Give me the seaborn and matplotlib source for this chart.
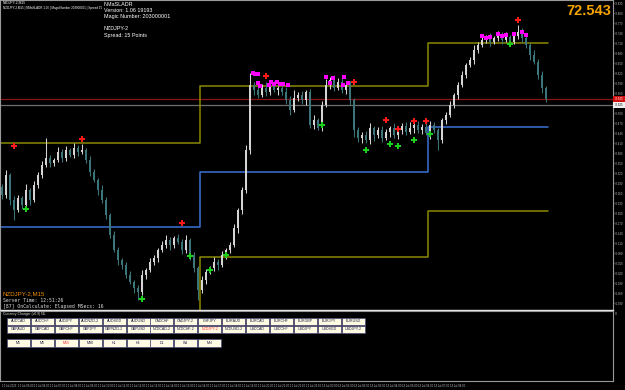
import matplotlib
matplotlib.use("Agg")
import matplotlib.pyplot as plt
from matplotlib.patches import Rectangle
import numpy as np
import pandas as pd
import seaborn as sns

# ---------------- data ----------------
symbol = "NZDJPY-2"
timeframe = "M15"
last_price = 72.543
first_open = 72.280

closes = [
    72.255, 72.315, 72.240, 72.210, 72.246, 72.225, 72.270, 72.240, 72.285, 72.315,
    72.345, 72.366, 72.351, 72.360, 72.384, 72.366, 72.390, 72.375, 72.396, 72.384,
    72.390, 72.360, 72.324, 72.300, 72.270, 72.240, 72.195, 72.135, 72.090, 72.060,
    72.045, 72.015, 71.994, 71.976, 71.964, 72.015, 72.030, 72.054, 72.066, 72.090,
    72.105, 72.120, 72.105, 72.126, 72.114, 72.090, 72.120, 72.075, 72.036, 71.970,
    72.000, 72.024, 72.036, 72.054, 72.045, 72.075, 72.090, 72.105, 72.156, 72.210,
    72.270, 72.390, 72.585, 72.570, 72.555, 72.576, 72.564, 72.585, 72.570, 72.576,
    72.564, 72.540, 72.510, 72.546, 72.555, 72.540, 72.564, 72.465, 72.480, 72.456,
    72.525, 72.585, 72.600, 72.576, 72.594, 72.570, 72.585, 72.540, 72.450, 72.426,
    72.435, 72.420, 72.456, 72.435, 72.450, 72.426, 72.444, 72.456, 72.435, 72.450,
    72.462, 72.444, 72.456, 72.465, 72.450, 72.459, 72.441, 72.465, 72.450, 72.420,
    72.480, 72.495, 72.525, 72.555, 72.585, 72.615, 72.645, 72.660, 72.690, 72.705,
    72.720, 72.726, 72.714, 72.726, 72.735, 72.720, 72.729, 72.714, 72.732, 72.744,
    72.726, 72.705, 72.675, 72.654, 72.615, 72.576, 72.543,
]
# wick lengths in points (0.001)
wick_up = [
    9, 15, 6, 12, 9, 6, 18, 6, 12, 9,
    12, 60, 9, 6, 15, 9, 12, 6, 15, 9,
    18, 6, 12, 9, 6, 15, 9, 6, 12, 9,
    6, 9, 12, 6, 9, 15, 6, 12, 9, 6,
    12, 15, 9, 6, 12, 9, 15, 6, 9, 6,
    12, 9, 6, 15, 9, 12, 6, 9, 12, 6,
    9, 15, 36, 9, 15, 12, 18, 9, 12, 6,
    9, 15, 12, 24, 9, 12, 6, 9, 15, 6,
    12, 18, 9, 15, 12, 18, 9, 12, 6, 9,
    9, 12, 15, 6, 9, 12, 9, 6, 15, 9,
    9, 12, 18, 6, 12, 9, 15, 12, 9, 6,
    6, 9, 12, 6, 9, 12, 6, 9, 15, 9,
    12, 9, 15, 6, 12, 9, 15, 6, 9, 21,
    12, 9, 6, 15, 9, 12, 6,
]
wick_dn = [
    12, 9, 15, 30, 6, 12, 9, 15, 6, 9,
    9, 6, 12, 9, 6, 12, 9, 6, 9, 12,
    6, 9, 12, 6, 15, 9, 12, 9, 6, 15,
    12, 9, 6, 15, 24, 9, 12, 6, 9, 12,
    6, 9, 15, 9, 6, 12, 9, 15, 12, 30,
    9, 12, 6, 9, 15, 6, 12, 9, 6, 15,
    12, 9, 12, 15, 9, 6, 12, 9, 6, 15,
    9, 12, 15, 6, 9, 12, 15, 9, 12, 6,
    9, 6, 12, 9, 6, 9, 12, 15, 21, 12,
    15, 9, 12, 18, 9, 12, 6, 15, 9, 12,
    12, 9, 6, 15, 9, 12, 6, 18, 9, 30,
    9, 12, 6, 9, 12, 6, 9, 6, 12, 9,
    6, 9, 12, 6, 9, 12, 6, 9, 6, 9,
    12, 9, 15, 6, 12, 15, 9,
]

# step bands (ADR levels)
level_x = [-0.5, 49.5, 106.5, 136.5]
upper_band = [72.411, 72.582, 72.711, 72.711]
mid_band = [72.159, 72.324, 72.459, 72.459]
lower_band = [71.904, 72.069, 72.207, 72.207]

bid_line = 72.543
grey_line = 72.525

sell_idx = [3, 20, 45, 66, 88, 96, 99, 103, 106, 129]
sell_px = [72.402, 72.423, 72.171, 72.612, 72.594, 72.480, 72.453, 72.477, 72.477, 72.780]
buy_idx = [6, 35, 47, 52, 56, 80, 91, 97, 99, 103, 107, 127]
buy_px = [72.213, 71.943, 72.072, 72.030, 72.075, 72.465, 72.390, 72.408, 72.402, 72.420, 72.438, 72.708]
dot_idx = [62.8, 63.3, 64.0, 64.0, 64.5, 66.8, 67.3, 68.0, 68.8, 69.5, 70.3, 71.5,
           81.0, 82.0, 82.8, 85.5, 85.3, 86.5,
           120, 121, 122, 124, 125, 126, 128, 130, 131]
dot_px = [72.621, 72.618, 72.618, 72.591, 72.582, 72.585, 72.594, 72.588, 72.594, 72.588, 72.588, 72.585,
          72.609, 72.591, 72.606, 72.609, 72.585, 72.591,
          72.732, 72.726, 72.729, 72.738, 72.732, 72.735, 72.738, 72.744, 72.735]

price_ticks = [72.830, 72.800, 72.770, 72.740, 72.710, 72.680, 72.650, 72.620, 72.590, 72.560,
               72.530, 72.500, 72.470, 72.440, 72.410, 72.380, 72.350, 72.320, 72.290, 72.260,
               72.230, 72.200, 72.170, 72.140, 72.110, 72.080, 72.050, 72.020, 71.990, 71.960, 71.930]
time_labels = ["12 Jul 2022", "12 Jul 05:00", "12 Jul 06:00", "12 Jul 07:00", "12 Jul 08:00",
               "12 Jul 09:00", "12 Jul 10:00", "12 Jul 11:00", "12 Jul 12:00", "12 Jul 13:00",
               "12 Jul 14:00", "12 Jul 15:00", "12 Jul 16:00", "12 Jul 17:00", "12 Jul 18:00",
               "12 Jul 19:00", "12 Jul 20:00", "12 Jul 21:00", "12 Jul 22:00", "12 Jul 23:00",
               "13 Jul 00:00", "13 Jul 01:00", "13 Jul 02:00", "13 Jul 03:00", "13 Jul 04:00",
               "13 Jul 05:00", "13 Jul 06:00", "13 Jul 07:00", "13 Jul 08:00"]
time_idx = [0, 4, 8, 12, 16, 20, 24, 28, 32, 36, 40, 44, 48, 52, 56, 60, 64, 68, 72, 76,
            80, 84, 88, 92, 96, 100, 104, 108, 112]

pairs_row1 = ["AUDCAD", "AUDCHF", "AUDJPY", "AUDNZD-2", "AUDSGD", "AUDUSD", "CADCHF", "CADJPY-2",
              "CHFJPY", "EURAUD", "EURCAD", "EURCHF", "EURGBP", "EURJPY", "EURUSD"]
pairs_row2 = ["GBPAUD", "GBPCAD", "GBPCHF", "GBPJPY", "GBPNZD-2", "GBPUSD", "NZDCAD-2", "NZDCHF-2",
              "NZDJPY-2", "NZDUSD-2", "USDCAD", "USDCHF", "USDJPY", "USDSGD", "USDJPY-2"]
timeframes = ["M1", "M5", "M15", "M30", "H1", "H4", "D1", "W1", "MN"]

# ---------------- style ----------------
sns.set_style("dark", {"axes.facecolor": "black", "figure.facecolor": "black",
                       "axes.edgecolor": "#9a9a9a", "grid.color": "black"})
plt.rcParams["font.family"] = ["Liberation Sans", "DejaVu Sans"]

W, H = 625, 390
fig = plt.figure(figsize=(6.25, 3.9), dpi=100, facecolor="black")


def box(x0, y0, x1, y1):
    return [x0 / W, 1 - y1 / H, (x1 - x0) / W, (y1 - y0) / H]


def fx(px):
    return px / W


def fy(py):
    return 1 - py / H


ax = fig.add_axes(box(0, 0, 613, 310))
pax = fig.add_axes(box(0, 311, 613, 381))
XLIM = (-0.5, 152.75)

# ---------------- candles ----------------
n = len(closes)
idx = np.arange(n)
opens = [first_open] + closes[:-1]
df = pd.DataFrame({"i": idx, "open": opens, "close": closes,
                   "wu": np.array(wick_up) / 1000.0, "wd": np.array(wick_dn) / 1000.0})
df["top"] = df[["open", "close"]].max(axis=1)
df["bot"] = df[["open", "close"]].min(axis=1)
df["high"] = df["top"] + df["wu"]
df["low"] = df["bot"] - df["wd"]
df["bull"] = df["close"] >= df["open"]
bull_col, bear_col = "#d4d4d4", "#3b7479"
cols = [bull_col if b else bear_col for b in df["bull"]]

ax.vlines(df["i"], df["low"], df["high"], colors=cols, linewidth=0.75, zorder=3)
ax.bar(df["i"], (df["top"] - df["bot"]).clip(lower=0.0015), bottom=df["bot"],
       width=0.55, color=cols, linewidth=0, zorder=4)

# ---------------- bands ----------------
sns.lineplot(x=level_x, y=upper_band, ax=ax, drawstyle="steps-post", color="#8a8a00", lw=1.1, zorder=2)
sns.lineplot(x=level_x, y=mid_band, ax=ax, drawstyle="steps-post", color="#3d72d6", lw=1.1, zorder=2)
sns.lineplot(x=level_x, y=lower_band, ax=ax, drawstyle="steps-post", color="#8a8a00", lw=1.1, zorder=2)

ax.axhline(bid_line, color="#8e1414", lw=0.9, zorder=1)
ax.axhline(grey_line, color="#6e6e6e", lw=0.9, zorder=1)

# ---------------- signals ----------------
sns.scatterplot(x=sell_idx, y=sell_px, ax=ax, marker="P", color="#ff1a1a", s=18, linewidth=0, zorder=6)
sns.scatterplot(x=buy_idx, y=buy_px, ax=ax, marker="P", color="#1ed01e", s=18, linewidth=0, zorder=6)
sns.scatterplot(x=dot_idx, y=dot_px, ax=ax, marker="s", color="#ff00ff", s=5, linewidth=0, zorder=7)

# ---------------- main axes ----------------
ax.set_xlim(*XLIM)
ax.set_ylim(71.91, 72.84)
ax.set_xticks([])
ax.yaxis.tick_right()
ax.set_yticks(price_ticks)
ax.set_yticklabels([("" if abs(v - grey_line) < 0.008 else f"{v:.3f}") for v in price_ticks])
ax.tick_params(axis="y", direction="out", length=1.0, width=0.5, colors="#bdbdbd",
               labelsize=2.0, pad=0.5, right=True, left=False)
ax.set_xlabel("")
ax.set_ylabel("")
ax.grid(False)
for s in ["left", "top", "right"]:
    ax.spines[s].set_color("#9a9a9a")
    ax.spines[s].set_linewidth(0.8)
ax.spines["bottom"].set_color("#e8e8e8")
ax.spines["bottom"].set_linewidth(1.0)

# price labels on the axis
fig.patches.append(Rectangle((fx(613), fy(102)), 12 / W, 6 / H, transform=fig.transFigure,
                             facecolor="#d01010", edgecolor="none"))
fig.text(fx(618.8), fy(99), f"{bid_line:.3f}", fontsize=2.0, color="white", ha="center", va="center")
fig.patches.append(Rectangle((fx(613), fy(108)), 12 / W, 6 / H, transform=fig.transFigure,
                             facecolor="#f0f0f0", edgecolor="none"))
fig.text(fx(618.8), fy(105.2), f"{grey_line:.3f}", fontsize=2.0, color="black", ha="center", va="center")

# ---------------- panel axes ----------------
pax.set_xlim(*XLIM)
pax.set_ylim(0, 1)
pax.set_yticks([])
pax.set_xticks(time_idx)
pax.set_xticklabels(time_labels)
for lbl in pax.get_xticklabels():
    lbl.set_ha("left")
pax.tick_params(axis="x", direction="out", length=1.5, width=0.5, colors="#bdbdbd",
                labelsize=2.0, pad=1.0)
pax.grid(False)
for s in ["left", "top", "right", "bottom"]:
    pax.spines[s].set_color("#9a9a9a")
    pax.spines[s].set_linewidth(0.8)
fig.text(fx(615), fy(314), "0", fontsize=2.4, color="#bdbdbd", ha="left", va="center")

# ---------------- overlay texts ----------------
fig.text(fx(3), fy(3), f"{symbol},{timeframe}", fontsize=2.4, color="white", va="center")
fig.text(fx(3), fy(8), f"{symbol},{timeframe} | NMaSLADR 1.06 | MagicNumber 203000001 | Spread 15",
         fontsize=2.2, color="white", va="center")
header = ["NMaSLADR", "Version: 1.06 19193", "Magic Number: 203000001", "", symbol, "Spread: 15 Points"]
for k, t in enumerate(header):
    fig.text(fx(104), fy(4 + 6.2 * k), t, fontsize=3.9, color="white", va="center")

fig.text(fx(611), fy(11), f"{last_price:.3f}", fontsize=10.5, color="#f5a300",
         fontweight="bold", ha="right", va="center")

fig.text(fx(3), fy(294), f"{symbol},{timeframe}", fontsize=4.4, color="#f08c00", va="center")
fig.text(fx(3), fy(300.5), "Server Time: 12:51:26", fontsize=3.4, color="#e0e0e0", va="center",
         family="DejaVu Sans Mono")
fig.text(fx(3), fy(306.5), "[87] OnCalculate: Elapsed MSecs: 16", fontsize=3.4, color="#e0e0e0",
         va="center", family="DejaVu Sans Mono")
fig.text(fx(3), fy(314.5), "Currency Changer (v0.9) NL", fontsize=2.4, color="#e0e0e0", va="center")


def button(x0, y0, w, h, label, active):
    fig.patches.append(Rectangle((fx(x0), fy(y0 + h)), w / W, h / H, transform=fig.transFigure,
                                 facecolor="#fffbe3", edgecolor="#4a4a7a", linewidth=0.5))
    fig.text(fx(x0 + w / 2), fy(y0 + h / 2), label, fontsize=2.6,
             color="#ff2a2a" if active else "#1a1a40", ha="center", va="center")


step = 23.9
for k, p in enumerate(pairs_row1):
    button(7 + step * k, 317.5, 23, 7, p, p == symbol)
for k, p in enumerate(pairs_row2):
    button(7 + step * k, 325.5, 23, 7, p, p == symbol)
for k, t in enumerate(timeframes):
    button(7 + step * k, 339, 23, 7.5, t, t == timeframe)

fig.savefig("out.png", dpi=100, facecolor="black")
